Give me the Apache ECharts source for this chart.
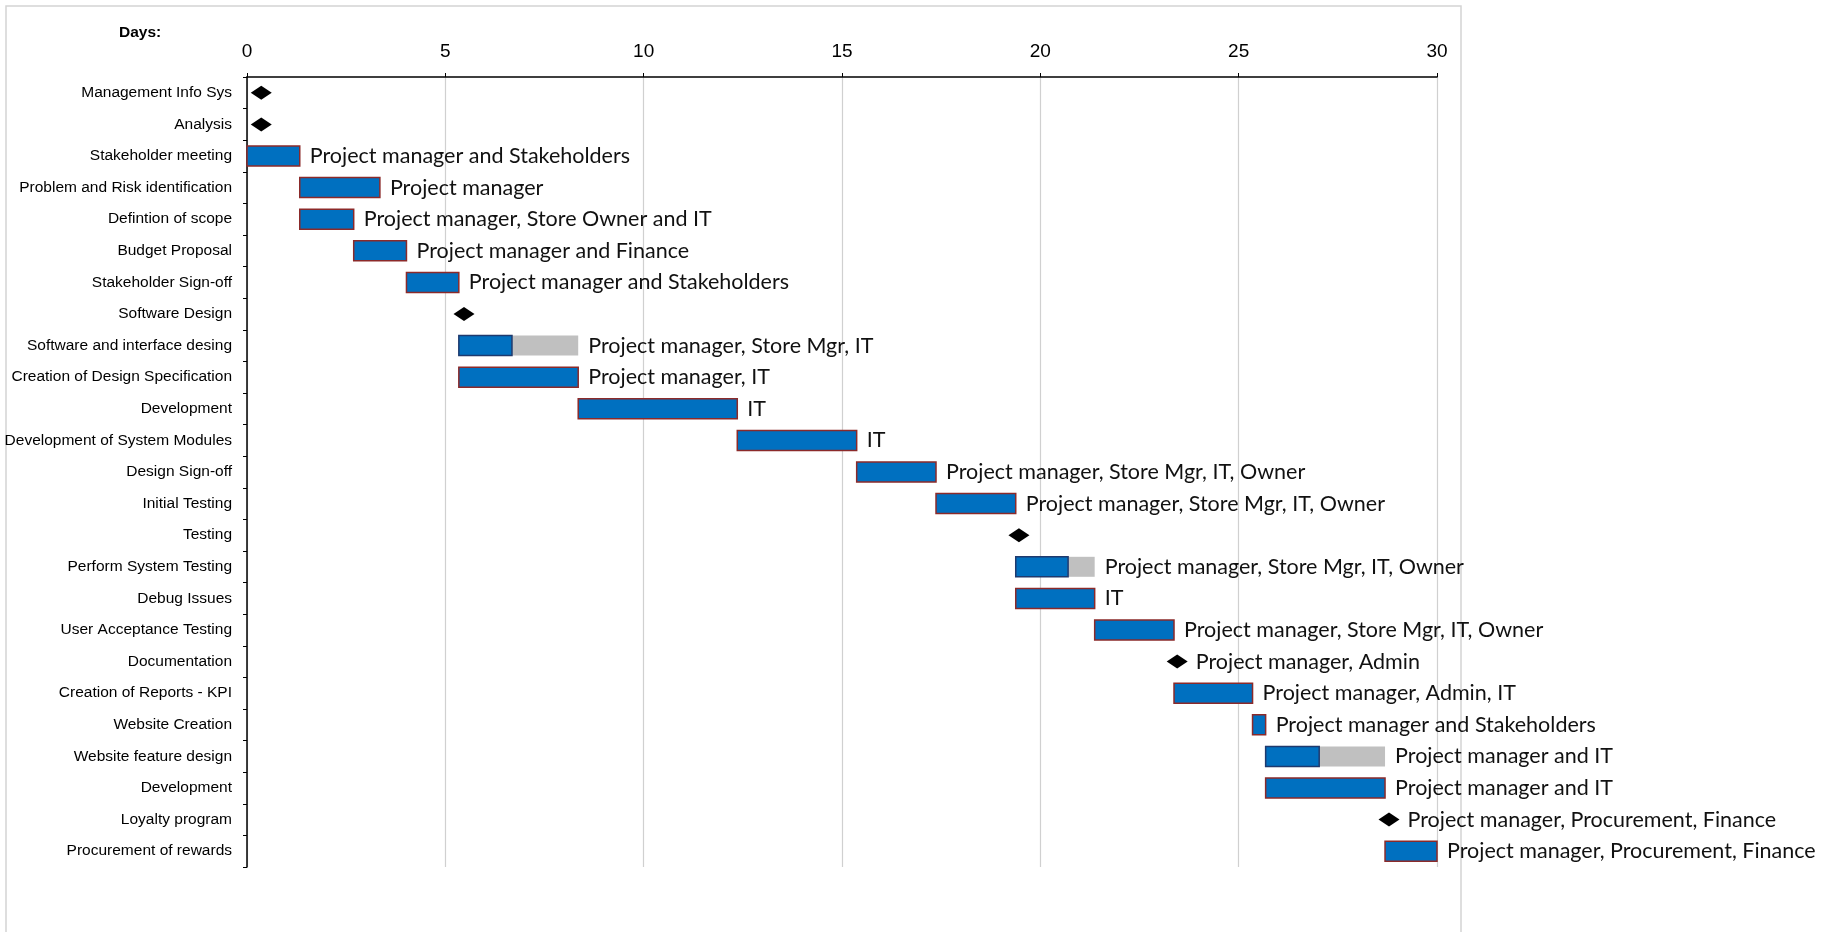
<!DOCTYPE html>
<html>
<head>
<meta charset="utf-8">
<title>Project schedule</title>
<script src="https://cdn.jsdelivr.net/npm/echarts@6/dist/echarts.min.js"></script>
<style>
  html, body { margin: 0; padding: 0; background: #ffffff; }
  #chart { width: 1829px; height: 932px; }
</style>
</head>
<body>
<div id="chart"></div>
<script>
// Schedule rows, top to bottom
const tasks = [
  'Management Info Sys',
  'Analysis',
  'Stakeholder meeting',
  'Problem and Risk identification',
  'Defintion of scope',
  'Budget Proposal',
  'Stakeholder Sign-off',
  'Software Design',
  'Software and interface desing',
  'Creation of Design Specification',
  'Development',
  'Development of System Modules',
  'Design Sign-off',
  'Initial Testing',
  'Testing',
  'Perform System Testing',
  'Debug Issues',
  'User Acceptance Testing',
  'Documentation',
  'Creation of Reports - KPI',
  'Website Creation',
  'Website feature design',
  'Development',
  'Loyalty program',
  'Procurement of rewards'
];

// Task start / end (days); null for milestone rows
const startDay = [null, null, 0, 1.33, 1.33, 2.69, 4.02, null, 5.34, 5.34, 8.35, 12.36, 15.37, 17.37, null, 19.38, 19.38, 21.37, null, 23.37, 25.35, 25.68, 25.68, null, 28.69];
const endDay   = [null, null, 1.33, 3.35, 2.69, 4.02, 5.34, null, 8.35, 8.35, 12.36, 15.37, 17.37, 19.38, null, 21.37, 21.37, 23.37, null, 25.35, 25.68, 28.69, 28.69, null, 30];

// Completed portion (days) for tasks still in progress
const doneDay  = [null, null, null, null, null, null, null, null, 6.68, null, null, null, null, null, null, 20.70, null, null, null, null, null, 27.03, null, null, null];

// Milestone positions (days)
const milestoneDay = [0.36, 0.36, null, null, null, null, null, 5.47, null, null, null, null, null, null, 19.46, null, null, null, 23.45, null, null, null, null, 28.79, null];

// Who is responsible
const owners = [
  '', '',
  'Project manager and Stakeholders',
  'Project manager',
  'Project manager, Store Owner and IT',
  'Project manager and Finance',
  'Project manager and Stakeholders',
  '',
  'Project manager, Store Mgr, IT',
  'Project manager, IT',
  'IT',
  'IT',
  'Project manager, Store Mgr, IT, Owner',
  'Project manager, Store Mgr, IT, Owner',
  '',
  'Project manager, Store Mgr, IT, Owner',
  'IT',
  'Project manager, Store Mgr, IT, Owner',
  'Project manager, Admin',
  'Project manager, Admin, IT',
  'Project manager and Stakeholders',
  'Project manager and IT',
  'Project manager and IT',
  'Project manager, Procurement, Finance',
  'Project manager, Procurement, Finance'
];

// Day axis ticks
const dayTicks = [0, 5, 10, 15, 20, 25, 30];

// ---- build series data ----
const taskRows = [];
const milestoneRows = [];
tasks.forEach(function (name, i) {
  if (startDay[i] !== null) {
    taskRows.push([i, startDay[i], endDay[i], doneDay[i] !== null ? doneDay[i] : endDay[i]]);
  }
  if (milestoneDay[i] !== null) {
    milestoneRows.push([milestoneDay[i], i]);
  }
});

const LABEL_FONT = 'Lato, "Open Sans", sans-serif';
const AXIS_FONT = '"Liberation Sans", Arial, sans-serif';
const BAR_H = 20;

function renderTask(params, api) {
  const row = api.value(0);
  const s = api.value(1), e = api.value(2), d = api.value(3);
  const a = api.coord([s, row]);
  const b = api.coord([e, row]);
  const c = api.coord([d, row]);
  const top = a[1] - BAR_H / 2;
  const children = [];
  if (d < e) {
    children.push({
      type: 'rect',
      shape: { x: c[0], y: top, width: b[0] - c[0], height: BAR_H },
      style: { fill: '#C0C0C0' }
    });
    children.push({
      type: 'rect',
      shape: { x: a[0], y: top, width: c[0] - a[0], height: BAR_H },
      style: { fill: '#0070C0', stroke: '#1F3A6E', lineWidth: 1.5 }
    });
  } else {
    children.push({
      type: 'rect',
      shape: { x: a[0], y: top, width: b[0] - a[0], height: BAR_H },
      style: { fill: '#0070C0', stroke: '#8B2A2A', lineWidth: 1.5 }
    });
  }
  children.push({
    type: 'text',
    x: b[0] + 10,
    y: a[1],
    style: {
      text: owners[row],
      fill: '#111',
      fontSize: 21.5,
      fontFamily: LABEL_FONT,
      verticalAlign: 'middle',
      align: 'left'
    }
  });
  return { type: 'group', children: children };
}

const chart = echarts.init(document.getElementById('chart'), null, { renderer: 'canvas' });

chart.setOption({
  backgroundColor: '#ffffff',
  animation: false,
  title: {
    text: 'Days:',
    left: 114,
    top: 20,
    textStyle: { fontSize: 15.5, fontWeight: 'bold', color: '#000', fontFamily: AXIS_FONT }
  },
  graphic: [{
    type: 'rect',
    shape: { x: 6, y: 6, width: 1455, height: 1000 },
    style: { fill: 'none', stroke: '#D4D4D4', lineWidth: 1.5 },
    silent: true,
    z: -1
  }],
  grid: { left: 247, top: 77, right: 392, bottom: 65, containLabel: false, outerBoundsMode: 'none' },
  xAxis: {
    type: 'value',
    position: 'top',
    min: dayTicks[0],
    max: dayTicks[dayTicks.length - 1],
    interval: dayTicks[1] - dayTicks[0],
    axisLine: { show: true, lineStyle: { color: '#000', width: 1.5 } },
    axisTick: { show: true, length: 4, lineStyle: { color: '#000', width: 1 } },
    axisLabel: { color: '#000', fontSize: 19, margin: 16, fontFamily: AXIS_FONT },
    splitLine: { show: true, lineStyle: { color: '#D0D0D0', width: 1.2 } }
  },
  yAxis: {
    type: 'category',
    inverse: true,
    data: tasks,
    axisLine: { show: true, lineStyle: { color: '#000', width: 1.5 } },
    axisTick: { show: true, length: 4, lineStyle: { color: '#000', width: 1 } },
    axisLabel: { color: '#000', fontSize: 15.5, margin: 15, fontFamily: AXIS_FONT },
    splitLine: { show: false }
  },
  series: [
    {
      name: 'Tasks',
      type: 'custom',
      renderItem: renderTask,
      encode: { x: [1, 2, 3], y: 0 },
      data: taskRows,
      clip: false,
      z: 3
    },
    {
      name: 'Milestones',
      type: 'scatter',
      symbol: 'diamond',
      symbolSize: [21, 14],
      itemStyle: { color: '#000', opacity: 1 },
      data: milestoneRows,
      label: {
        show: true,
        position: 'right',
        distance: 8,
        formatter: function (p) { return owners[p.value[1]]; },
        color: '#111',
        opacity: 1,
        fontSize: 21.5,
        fontFamily: LABEL_FONT
      },
      z: 4
    }
  ]
});
</script>
</body>
</html>
